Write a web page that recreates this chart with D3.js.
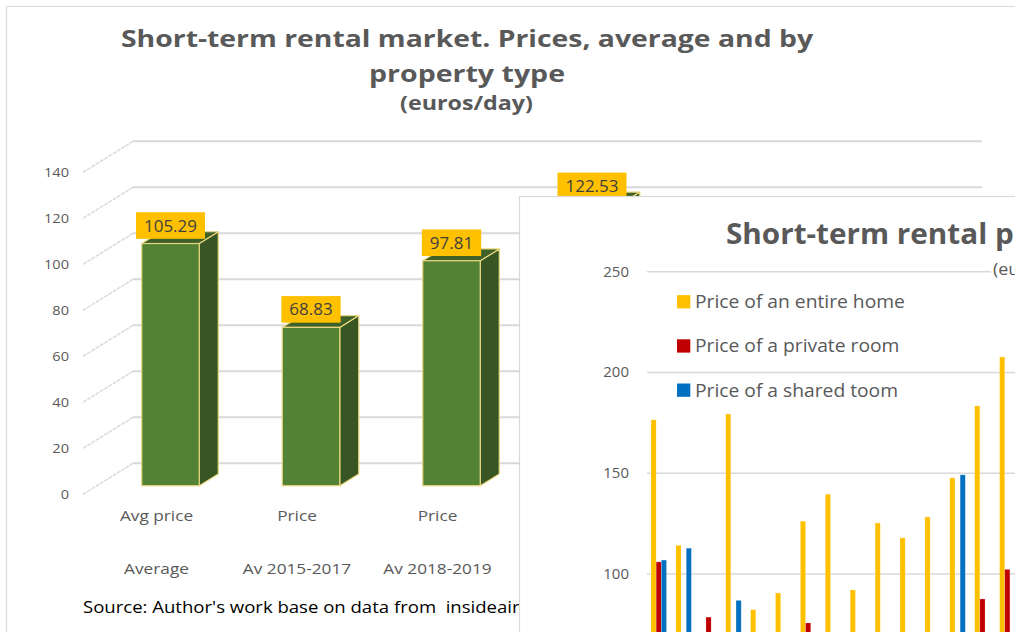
<!DOCTYPE html>
<html><head><meta charset="utf-8">
<script src="https://cdn.jsdelivr.net/npm/d3@7"></script>
<style>
html,body{margin:0;padding:0;background:#fff;overflow:hidden}
svg{display:block}
text{font-family:"Open Sans",sans-serif}
</style></head><body>
<svg id="c" width="1015" height="632"></svg>
<script>
// ---------- Chart 1 data (3D columns) ----------
const c1Groups = ["Average", "Av 2015-2017", "Av 2018-2019", "Entire home", "Private room", "Shared room"];
const c1Sub = ["Avg price", "Price", "Price", "Price", "Price", "Price"];
const c1Values = [105.29, 68.83, 97.81, 122.53, null, null];
const c1Ticks = [0, 20, 40, 60, 80, 100, 120, 140];
const c1Title = ["Short-term rental market. Prices, average and by", "property type"];
const c1Subtitle = "(euros/day)";
const c1Source = "Source: Author's work base on data from  insideairbnb";

// ---------- Chart 2 data (clustered columns, partly visible) ----------
const c2Cats = ["1","2","3","4","5","6","7","8","9","10","11","12","13","14","15"];
const c2Series = ["Price of an entire home", "Price of a private room", "Price of a shared toom"];
const entireHome  = [176.5, 114.2, null, 179.4, 82.3, 90.6, 126.2, 139.6, 92.1, 125.3, 117.9, 128.3, 147.7, 183.4, 207.7];
const privateRoom = [106.0, null, 78.6, null, null, null, 75.7, null, null, null, null, null, null, 87.6, 102.3];
const sharedRoom  = [106.9, 112.8, null, 86.9, null, null, null, null, null, null, null, null, 149.2, null, null];
const c2Ticks = [100, 150, 200, 250];
const c2Title = "Short-term rental prices by property type";
const c2Subtitle = "(euros/day)";
const c2Colors = ["#FFC000", "#C00000", "#0070C0"];

const svg = d3.select("#c");
const GRID = "#d9d9d9", TXT = "#595959";

function T(g, x, y, s, o) {
  const t = g.append("text")
    .attr("transform", `translate(${x},${y}) scale(${o.sx || 1},1)`)
    .attr("text-anchor", o.anchor || "start")
    .style("font-size", o.size + "px")
    .style("font-weight", o.weight || 400)
    .attr("fill", o.fill || TXT)
    .text(s);
  if (o.pre) t.style("white-space", "pre").attr("xml:space", "preserve");
  return t;
}

// ===== Chart 1 =====
const C2L = 519.5, C2T = 196.5;
const defs = svg.append("defs");
const clip = defs.append("clipPath").attr("id", "clip1");
clip.append("rect").attr("x", 0).attr("y", 0).attr("width", C2L).attr("height", 632);
clip.append("rect").attr("x", 0).attr("y", 0).attr("width", 1015).attr("height", C2T);

const g1 = svg.append("g").attr("clip-path", "url(#clip1)");
// frame
g1.append("path").attr("d", "M6.5,632 V6.5 H1015").attr("fill", "none").attr("stroke", GRID).attr("stroke-width", 1.2);

// title
g1.append("text").attr("x", 467).attr("y", 47).attr("text-anchor", "middle")
  .attr("textLength", 692).attr("lengthAdjust", "spacingAndGlyphs")
  .style("font-size", "24px").style("font-weight", 700).attr("fill", TXT).text(c1Title[0]);
g1.append("text").attr("x", 467).attr("y", 82).attr("text-anchor", "middle")
  .attr("textLength", 196).attr("lengthAdjust", "spacingAndGlyphs")
  .style("font-size", "24px").style("font-weight", 700).attr("fill", TXT).text(c1Title[1]);
g1.append("text").attr("x", 466.5).attr("y", 110).attr("text-anchor", "middle")
  .attr("textLength", 133).attr("lengthAdjust", "spacingAndGlyphs")
  .style("font-size", "19px").style("font-weight", 700).attr("fill", TXT).text(c1Subtitle);

const x1 = d3.scaleBand().domain(c1Groups).range([86.25, 86.25 + 6 * 140.5]).padding(0);
const y1 = d3.scaleLinear().domain([0, 140]).range([494.3, 172.3]);
const DX = 50, DY = -31;          // full floor depth
const fOff = [14, -8.6];          // bar front face offset
const bD = [19, -11.8];           // bar depth
const halfW = 28.75;

// back wall gridlines + floor diagonals
c1Ticks.forEach(t => {
  const y = y1(t);
  g1.append("line").attr("x1", 83).attr("y1", y).attr("x2", 83 + DX).attr("y2", y + DY)
    .attr("stroke", "#dcdcdc").attr("stroke-width", 1.6).attr("stroke-dasharray", "4,1");
  g1.append("line").attr("x1", 83 + DX).attr("y1", y + DY).attr("x2", 982).attr("y2", y + DY)
    .attr("stroke", GRID).attr("stroke-width", 2);
  T(g1, 69, y + 4.8, String(t), { size: 13.5, anchor: "end", sx: 1.08 });
});

// bars
const bars = c1Groups.map((c, i) => ({ c, v: c1Values[i] })).filter(d => d.v != null);
bars.forEach(d => {
  const cx = x1(d.c) + x1.bandwidth() / 2 + fOff[0];
  const x0 = cx - halfW, xr = cx + halfW;
  const yb = y1(0) + fOff[1], yt = y1(d.v) + fOff[1];
  const st = "#e8d67e";
  // side
  g1.append("path").attr("d", `M${xr},${yt} L${xr + bD[0]},${yt + bD[1]} L${xr + bD[0]},${yb + bD[1]} L${xr},${yb} Z`)
    .attr("fill", "#375623").attr("stroke", st).attr("stroke-width", 1.2).attr("stroke-linejoin", "round");
  // top
  g1.append("path").attr("d", `M${x0},${yt} L${x0 + bD[0]},${yt + bD[1]} L${xr + bD[0]},${yt + bD[1]} L${xr},${yt} Z`)
    .attr("fill", "#3d6128").attr("stroke", st).attr("stroke-width", 1.2).attr("stroke-linejoin", "round");
  // front
  g1.append("rect").attr("x", x0).attr("y", yt).attr("width", xr - x0).attr("height", yb - yt)
    .attr("fill", "#548235").attr("stroke", st).attr("stroke-width", 1.2);
  // data label
  const lab = g1.append("g");
  const tt = T(lab, cx, yt - 18 + 6, d.v.toFixed(2), { size: 16.5, anchor: "middle", fill: "#404040", sx: 1.03 });
  const w = tt.node().getComputedTextLength() * 1.03 + 16;
  lab.insert("rect", "text").attr("x", cx - w / 2).attr("y", yt - 18 - 13.3).attr("width", w).attr("height", 26.6)
    .attr("fill", "#FFC000");
});

// category labels (only those not hidden by the overlaid chart)
c1Groups.forEach((c, i) => {
  const cx = x1(c) + x1.bandwidth() / 2;
  if (cx + 50 > C2L) return;
  T(g1, cx, 521.3, c1Sub[i], { size: 14.5, anchor: "middle", sx: 1.19 });
  T(g1, cx, 574.3, c, { size: 14.5, anchor: "middle", sx: 1.19 });
});
T(g1, 83, 612.5, c1Source, { size: 16, fill: "#000", sx: 1.16, pre: true });

// ===== Chart 2 (overlay) =====
const g2 = svg.append("g");
g2.append("rect").attr("x", C2L).attr("y", C2T).attr("width", 600).attr("height", 500)
  .attr("fill", "#fff").attr("stroke", GRID).attr("stroke-width", 1.2);

const x2 = d3.scaleBand().domain(c2Cats).range([647, 647 + c2Cats.length * 24.9]).padding(0);
const xs = d3.scaleBand().domain([0, 1, 2]).range([4, 19.5]).padding(0);
const y2 = d3.scaleLinear().domain([0, 250]).range([775.5, 271.7]);

c2Ticks.forEach(t => {
  g2.append("line").attr("x1", 647).attr("x2", 1015).attr("y1", y2(t)).attr("y2", y2(t))
    .attr("stroke", GRID).attr("stroke-width", 1.6);
  T(g2, 629, y2(t) + 5, String(t), { size: 14, anchor: "end", sx: 1.07 });
});

const seriesData = [entireHome, privateRoom, sharedRoom];
seriesData.forEach((arr, k) => {
  g2.selectAll(null).data(c2Cats.map((c, i) => ({ c, v: arr[i] })).filter(d => d.v != null))
    .enter().append("rect")
    .attr("x", d => x2(d.c) + xs(k)).attr("width", xs.bandwidth())
    .attr("y", d => y2(d.v)).attr("height", d => y2(0) - y2(d.v))
    .attr("fill", c2Colors[k]).attr("stroke", "#fff").attr("stroke-opacity", 0.35).attr("stroke-width", 0.6);
});

// legend
c2Series.forEach((s, k) => {
  const cy = 301.7 + k * 44.2;
  g2.append("rect").attr("x", 677).attr("y", cy - 6.6).attr("width", 13.3).attr("height", 13.3).attr("fill", c2Colors[k]);
  T(g2, 695, cy + 6.5, s, { size: 18, sx: 1.07 });
});

// title
T(g2, 726, 244, c2Title, { size: 28, weight: 700, sx: 1.06 });
g2.append("rect").attr("x", 991).attr("y", 259).attr("width", 200).attr("height", 22).attr("fill", "#fff");
T(g2, 993, 275, c2Subtitle, { size: 17, sx: 1.05 });
</script>
</body></html>
